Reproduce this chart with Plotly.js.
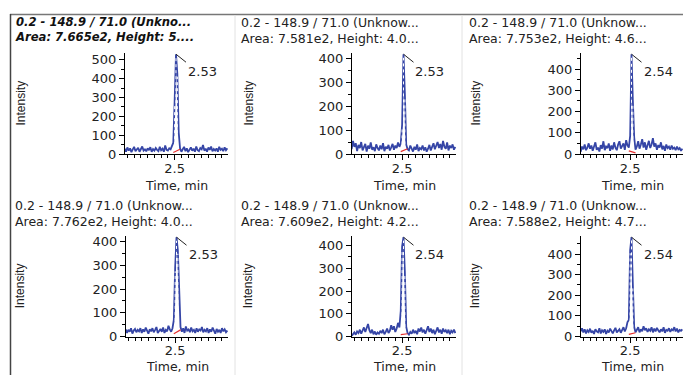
<!DOCTYPE html>
<html><head><meta charset="utf-8">
<script src="https://cdn.plot.ly/plotly-3.0.1.min.js"></script>
<style>html,body{margin:0;padding:0;background:#fff;}#chart{width:683px;height:375px;}</style>
</head><body><div id="chart"></div>
<script>
// ---- data ----
const times = [1.76,1.78,1.80,1.82,1.84,1.86,1.88,1.90,1.92,1.94,1.96,1.98,2.00,2.02,2.04,2.06,2.08,2.10,2.12,2.14,2.16,2.18,2.20,2.22,2.24,2.26,2.28,2.30,2.32,2.34,2.36,2.38,2.40,2.42,2.44,2.46,2.48,2.50,2.52,2.54,2.56,2.58,2.60,2.62,2.64,2.66,2.68,2.70,2.72,2.74,2.76,2.78,2.80,2.82,2.84,2.86,2.88,2.90,2.92,2.94,2.96,2.98,3.00,3.02,3.04,3.06,3.08,3.10,3.12,3.14,3.16,3.18,3.20,3.22,3.24,3.26,3.28];
const intensity1 = [28,12,35,18,30,10,25,38,15,22,33,12,28,40,18,25,14,30,20,36,12,26,18,32,22,15,38,20,28,12,45,22,18,30,25,40,
  60,280,530,426,115,30,
  12,25,38,15,30,10,22,35,18,28,12,40,20,15,32,25,48,18,28,12,35,22,40,15,26,18,30,12,38,22,28,15,35,20,30];
const intensity2 = [20,55,30,45,12,38,25,50,15,30,42,10,35,22,48,18,28,12,40,25,15,35,20,45,12,30,22,38,15,28,42,18,35,25,48,30,
  45,122,417,254,40,20,
  15,35,22,10,30,18,40,12,25,20,35,15,28,10,22,38,15,30,45,20,35,50,25,42,18,55,30,22,48,15,35,25,40,18,30];
const intensity3 = [10,35,22,45,18,30,50,25,40,15,35,55,20,30,12,42,25,60,18,35,28,50,15,40,22,55,30,18,45,60,25,38,50,20,65,40,
  30,85,470,253,80,20,
  35,60,25,45,70,30,55,20,40,62,28,45,75,35,50,20,42,30,55,22,38,15,45,28,35,20,40,25,30,18,35,22,28,15,25];
const intensity4 = [30,15,28,20,35,12,25,32,18,28,22,35,15,30,20,38,25,12,30,22,35,18,28,40,15,25,32,20,38,15,28,22,45,30,20,35,
  70,290,419,364,167,40,
  20,35,15,42,25,30,18,38,22,28,15,35,20,30,25,40,18,28,22,35,15,30,20,38,25,12,32,20,28,15,35,22,30,18,25];
const intensity5 = [2,10,18,8,22,15,30,12,25,40,20,35,55,28,15,30,10,22,8,18,12,25,15,30,10,20,35,15,25,50,30,45,20,35,60,40,
  113,397,437,285,43,15,
  8,20,12,30,15,25,10,35,22,40,18,30,12,28,45,20,35,15,30,10,25,40,18,30,12,35,20,28,15,30,10,25,18,30,15];
const intensity6 = [25,40,20,35,15,30,22,38,18,28,12,35,25,20,40,15,30,22,35,12,28,20,38,25,15,30,42,20,28,35,18,30,45,25,40,70,
  80,419,482,253,47,20,
  30,45,20,35,25,50,30,40,22,35,28,45,20,38,25,42,30,20,35,25,45,18,32,28,40,22,35,30,45,25,38,20,32,28,35];
const rtLabels = ["2.53","2.53","2.54","2.53","2.54","2.54"];
const areaLabels = ["7.665e2","7.581e2","7.753e2","7.762e2","7.609e2","7.588e2"];
const heightLabels = ["5....","4.0...","4.6...","4.0...","4.2...","4.7..."];
const baseStart = [8,10,15,12,8,10];   // integration baseline at 2.48
const baseEnd = [25,22,5,28,12,18];    // integration baseline at 2.58
const baseTimes = [2.48,2.58];
const xTick = [2.5];
const series = [intensity1,intensity2,intensity3,intensity4,intensity5,intensity6];

// ---- layout helpers ----
const W=683,H=375;
const px = x => x/W, py = y => 1-y/H;
const boxes = [[125,228,53,154],[352,456,53,154],[581,683,53,154],[126,228,236,336.5],[352,456,236,336.5],[581,683,236,336.5]];
const titleX = [14,240,468,14,240,468];
const titleTop = [14,14,14,197,197,197];
const intensX = [20,248,475,20,248,475];
const timeY = [185,185,185,366.5,366.5,366.5];
const lineColor = '#3545a6';
const txt = '#222';

const traces=[], annotations=[], shapes=[];
const layout = {width:W,height:H,margin:{l:0,r:0,t:0,b:0},showlegend:false,
  paper_bgcolor:'#fff',plot_bgcolor:'#fff',font:{family:'DejaVu Sans, sans-serif',size:13,color:txt}};

series.forEach((vals,i)=>{
  const n=i+1, xa='x'+(n===1?'':n), ya='y'+(n===1?'':n);
  const b=boxes[i];
  const top = Math.max(...vals);
  const ax={domain:[px(b[0]),px(b[1])],anchor:ya,range:[1.765,3.29],showgrid:false,zeroline:false,
    showline:true,linecolor:'#000',linewidth:1,ticks:'outside',ticklen:5,tickcolor:'#000',ticklabelstandoff:-3,
    tickmode:'array',tickvals:xTick,ticktext:['2.5'],tickfont:{family:'DejaVu Sans',size:13,color:txt},
    minor:{tickmode:'linear',tick0:2.5,dtick:0.1,ticks:'outside',ticklen:3,tickcolor:'#000',showgrid:false}};
  const ay={domain:[py(b[3]),py(b[2])],anchor:xa,range:[0,top*1.012],showgrid:false,zeroline:false,
    showline:true,linecolor:'#000',linewidth:1,ticks:'outside',ticklen:5,tickcolor:'#000',dtick:100,
    tickfont:{family:'DejaVu Sans',size:13,color:txt},
    minor:{dtick:50,ticks:'outside',ticklen:3,tickcolor:'#000',showgrid:false}};
  layout['xaxis'+(n===1?'':n)]=ax;
  layout['yaxis'+(n===1?'':n)]=ay;
  traces.push({type:'scatter',mode:'lines',x:times,y:vals,xaxis:xa,yaxis:ya,
    line:{color:lineColor,width:1.8},hoverinfo:'skip'});
  // integration drop lines inside peak
  const dx=[],dy=[];
  vals.forEach((v,k)=>{ if(times[k]>=2.49 && times[k]<=2.55 && v>100){dx.push(times[k],times[k],null);dy.push(15,v-15,null);} });
  traces.push({type:'scatter',mode:'lines',x:dx,y:dy,xaxis:xa,yaxis:ya,line:{color:'#fff',width:1,dash:'dot'},hoverinfo:'skip'});
  traces.push({type:'scatter',mode:'lines',x:baseTimes,y:[baseStart[i],baseEnd[i]],xaxis:xa,yaxis:ya,
    line:{color:'#e53030',width:1.2},hoverinfo:'skip'});
  // apex label
  let km=0; vals.forEach((v,k)=>{if(v>vals[km])km=k;});
  annotations.push({xref:xa,yref:ya,x:times[km],y:vals[km],text:rtLabels[i],showarrow:true,arrowhead:0,
    arrowwidth:1,arrowcolor:'#222',ax:10,ay:8,xanchor:'left',yanchor:'top',font:{family:'DejaVu Sans',size:13,color:txt}});
  // panel titles (two lines in one text)
  const bold = i===0;
  const l1 = bold ? '<b><i>0.2 - 148.9 / 71.0 (Unkno...</i></b>' : '0.2 - 148.9 / 71.0 (Unknow...';
  const l2 = bold ? '<b><i>Area: '+areaLabels[i]+', Height: '+heightLabels[i]+'</i></b>' : 'Area: '+areaLabels[i]+', Height: '+heightLabels[i];
  const tf={family:'DejaVu Sans',size:bold?11.6:12.5,color:bold?'#111':txt};
  annotations.push({xref:'paper',yref:'paper',x:px(titleX[i]),y:py(titleTop[i]),text:l1+'<br>'+l2,showarrow:false,
    xanchor:'left',yanchor:'top',align:'left',font:tf,borderpad:0});
  // axis titles
  annotations.push({xref:'paper',yref:'paper',x:px(intensX[i]),y:py((b[2]+b[3])/2),text:'Intensity',textangle:-90,showarrow:false,
    xanchor:'center',yanchor:'middle',font:{family:'Liberation Sans',size:12,color:txt}});
  annotations.push({xref:'paper',yref:'paper',x:px((b[0]+b[1])/2),y:py(timeY[i]),text:'Time, min',showarrow:false,
    xanchor:'center',yanchor:'middle',font:{family:'DejaVu Sans',size:12.5,color:txt}});
});

// frame lines
shapes.push({type:'line',xref:'paper',yref:'paper',x0:px(10),x1:1,y0:py(14.5),y1:py(14.5),line:{color:'#777',width:1.5}});
shapes.push({type:'line',xref:'paper',yref:'paper',x0:px(10.5),x1:px(10.5),y0:py(14),y1:0,line:{color:'#444',width:1.5}});
shapes.push({type:'line',xref:'paper',yref:'paper',x0:px(235),x1:px(235),y0:py(15),y1:0,line:{color:'#e2e2e2',width:1}});
shapes.push({type:'line',xref:'paper',yref:'paper',x0:px(462),x1:px(462),y0:py(15),y1:0,line:{color:'#e2e2e2',width:1}});
layout.annotations=annotations; layout.shapes=shapes;
Plotly.newPlot('chart',traces,layout,{staticPlot:true,displayModeBar:false});
</script></body></html>
